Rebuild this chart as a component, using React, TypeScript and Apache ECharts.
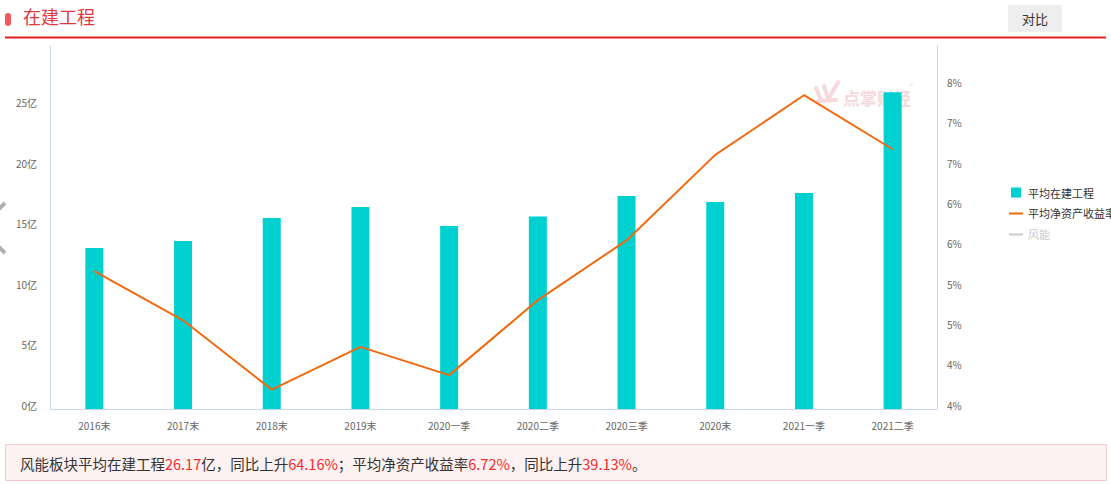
import React, { useEffect, useRef } from "react";
import * as echarts from "echarts";

const categories = ["2016末", "2017末", "2018末", "2019末", "2020一季", "2020二季", "2020三季", "2020末", "2021一季", "2021二季"];
const constructionValues = [13.31, 13.88, 15.79, 16.69, 15.12, 15.9, 17.6, 17.11, 17.85, 26.17];
const roeValues = [5.21, 4.6, 3.74, 4.27, 3.92, 4.85, 5.59, 6.65, 7.39, 6.72];
const leftTicks = { min: 0, max: 30, interval: 5 };
const rightTicks = { min: 3.5, max: 8, interval: 0.5 };
const seriesNames = ["平均在建工程", "平均净资产收益率", "风能"];
const summaryParts: [string, boolean][] = [
  ["风能板块平均在建工程", false],
  ["26.17", true],
  ["亿，同比上升", false],
  ["64.16%", true],
  ["；平均净资产收益率", false],
  ["6.72%", true],
  ["，同比上升", false],
  ["39.13%", true],
  ["。", false],
];

const FONT = "'Noto Sans CJK SC', 'Noto Sans', sans-serif";
const SQUARE = "path://M0,0 L10,0 L10,10 L0,10 Z";
const DASH = "path://M0,0 L14,0 L14,2 L0,2 Z";

export default function App() {
  const ref = useRef<HTMLDivElement>(null);
  useEffect(() => {
    if (!ref.current) return;
    const chart = echarts.init(ref.current, undefined, { renderer: "svg" });
    const summaryText = summaryParts.map(([t, hi]) => `{${hi ? "r" : "n"}|${t}}`).join("");
    const wm = "#f7d9dd";
    chart.setOption({
      animation: false,
      textStyle: { fontFamily: FONT },
      grid: { left: 50, right: 174, top: 46, bottom: 75, containLabel: false },
      legend: {
        orient: "vertical",
        left: 1004,
        top: 182,
        itemGap: 10,
        itemWidth: 14,
        itemHeight: 10,
        textStyle: { fontSize: 11, color: "#333", fontFamily: FONT },
        inactiveColor: "#ccc",
        data: [
          { name: seriesNames[0], icon: SQUARE },
          { name: seriesNames[1], icon: DASH },
          { name: seriesNames[2], icon: DASH },
        ],
        selected: { [seriesNames[2]]: false },
      },
      xAxis: {
        type: "category",
        data: categories,
        axisLine: { lineStyle: { color: "#c8d5ea", width: 1 } },
        axisTick: { show: false },
        axisLabel: { color: "#666", fontSize: 10, margin: 11 },
      },
      yAxis: [
        {
          type: "value",
          min: leftTicks.min,
          max: leftTicks.max,
          interval: leftTicks.interval,
          position: "left",
          axisLine: { show: true, lineStyle: { color: "#c8d5ea" } },
          axisTick: { show: false },
          splitLine: { show: false },
          axisLabel: {
            color: "#666",
            fontSize: 10,
            margin: 13,
            verticalAlign: "bottom",
            lineHeight: 8,
            showMaxLabel: false,
            formatter: (v: number) => `${v}亿`,
          },
        },
        {
          type: "value",
          min: rightTicks.min,
          max: rightTicks.max,
          interval: rightTicks.interval,
          position: "right",
          axisLine: { show: true, lineStyle: { color: "#c8d5ea" } },
          axisTick: { show: false },
          splitLine: { show: false },
          axisLabel: {
            color: "#666",
            fontSize: 10,
            margin: 10,
            verticalAlign: "bottom",
            lineHeight: 8,
            showMaxLabel: false,
            formatter: (v: number) => `${Math.round(v)}%`,
          },
        },
      ],
      series: [
        {
          name: seriesNames[0],
          type: "bar",
          yAxisIndex: 0,
          data: constructionValues,
          barWidth: 18,
          itemStyle: { color: "#00d0d0" },
        },
        {
          name: seriesNames[1],
          type: "line",
          yAxisIndex: 1,
          data: roeValues,
          symbol: "none",
          lineStyle: { color: "#f06a10", width: 2 },
          itemStyle: { color: "#f06a10" },
        },
        {
          name: seriesNames[2],
          type: "line",
          yAxisIndex: 1,
          data: [],
          symbol: "none",
          lineStyle: { color: "#c0c0c0", width: 2 },
          itemStyle: { color: "#c0c0c0" },
        },
      ],
      graphic: [
        { type: "rect", shape: { x: 5, y: 13, width: 6, height: 13, r: 3 }, style: { fill: "#f05a5a" } },
        {
          type: "text",
          x: 23,
          y: 16,
          style: { text: "在建工程", fill: "#e2383c", fontSize: 18, fontFamily: FONT, verticalAlign: "middle" },
        },
        { type: "rect", shape: { x: 5, y: 36.5, width: 1101, height: 2 }, style: { fill: "#e02020" } },
        { type: "rect", shape: { x: 1008, y: 5, width: 54, height: 27 }, style: { fill: "#eeeeee" } },
        {
          type: "text",
          x: 1035,
          y: 18.5,
          style: { text: "对比", fill: "#333", fontSize: 13, fontFamily: FONT, align: "center", verticalAlign: "middle" },
        },
        {
          type: "polyline",
          shape: { points: [[5, 203], [-20, 228], [5, 253]] },
          style: { stroke: "#b0b0b0", lineWidth: 4, fill: "none" },
        },
        // watermark logo
        { type: "line", shape: { x1: 816, y1: 88, x2: 821, y2: 100 }, style: { stroke: wm, lineWidth: 4, lineCap: "round" } },
        { type: "line", shape: { x1: 824, y1: 86, x2: 828, y2: 99 }, style: { stroke: wm, lineWidth: 4, lineCap: "round" } },
        { type: "line", shape: { x1: 838, y1: 82, x2: 830, y2: 96 }, style: { stroke: wm, lineWidth: 4, lineCap: "round" } },
        { type: "line", shape: { x1: 818, y1: 101, x2: 836, y2: 100 }, style: { stroke: wm, lineWidth: 4, lineCap: "round" } },
        {
          type: "text",
          x: 843,
          y: 97,
          style: { text: "点掌财经", fill: wm, fontSize: 17, fontWeight: "bold", fontFamily: FONT, verticalAlign: "middle" },
        },
        {
          type: "text",
          x: 910,
          y: 86,
          style: { text: "®", fill: wm, fontSize: 7, fontFamily: FONT, verticalAlign: "middle" },
        },
        {
          type: "rect",
          shape: { x: 5.5, y: 444.5, width: 1101, height: 36 },
          style: { fill: "#fdf1f2", stroke: "#f7c8cc", lineWidth: 1 },
        },
        {
          type: "text",
          x: 20,
          y: 463,
          style: {
            text: summaryText,
            verticalAlign: "middle",
            fontFamily: FONT,
            fontSize: 14.5,
            rich: {
              n: { fill: "#333", fontSize: 14.5, fontFamily: FONT },
              r: { fill: "#f42a2a", fontSize: 14.5, fontFamily: FONT },
            },
          },
        },
      ],
    });
    return () => chart.dispose();
  }, []);
  return (
    <div
      ref={ref}
      style={{ position: "absolute", left: 0, top: 0, width: 1111, height: 484, background: "#fff" }}
    />
  );
}
